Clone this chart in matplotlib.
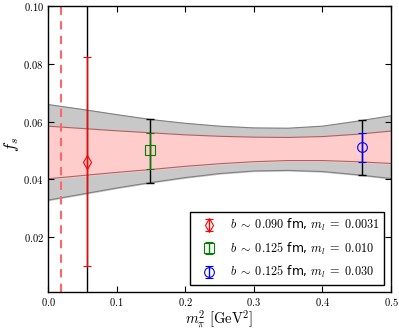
import matplotlib
matplotlib.use("Agg")
import matplotlib.pyplot as plt
from matplotlib.ticker import FuncFormatter, MultipleLocator

plt.rcParams['mathtext.fontset'] = 'cm'
plt.rcParams['font.family'] = ['DejaVu Sans']

# Band samples (m_pi^2 in GeV^2)
band_x = [0.0, 0.05, 0.1, 0.15, 0.2, 0.25, 0.3, 0.35, 0.4, 0.45, 0.5]
gray_top = [0.0659, 0.0642, 0.0624, 0.0607, 0.0594, 0.0584, 0.0578, 0.0577, 0.0584, 0.0601, 0.0620]
pink_top = [0.0584, 0.0576, 0.0568, 0.0561, 0.0554, 0.0549, 0.0546, 0.0545, 0.0548, 0.0556, 0.0567]
pink_bot = [0.0402, 0.0413, 0.0424, 0.0434, 0.0445, 0.0454, 0.0461, 0.0465, 0.0465, 0.0461, 0.0455]
gray_bot = [0.0328, 0.0349, 0.0370, 0.0389, 0.0406, 0.0420, 0.0429, 0.0431, 0.0427, 0.0416, 0.0403]

# Data points
pt_x = [0.0573, 0.148, 0.457]
pt_y = [0.0461, 0.0500, 0.0511]
stat_lo = [0.0101, 0.0437, 0.0461]
stat_hi = [0.0823, 0.0560, 0.0559]
tot_lo = [-0.05, 0.0389, 0.0415]
tot_hi = [0.15, 0.0609, 0.0606]
pt_colors = ['r', 'g', 'b']
pt_markers = ['d', 's', 'o']
pt_labels = [r"$b\;\sim\;0.090$ fm, $m_l\;=\;0.0031$",
             r"$b\;\sim\;0.125$ fm, $m_l\;=\;0.010$",
             r"$b\;\sim\;0.125$ fm, $m_l\;=\;0.030$"]

phys_mpi2 = 0.0183

fig = plt.figure(figsize=(3.99, 3.32), dpi=100)
ax = fig.add_axes([0.1203, 0.1205, 0.8597, 0.8614])

ax.fill_between(band_x, gray_bot, gray_top, color='#c8c8c8', zorder=1)
ax.plot(band_x, gray_top, color='#808080', lw=0.8, zorder=1.1)
ax.plot(band_x, gray_bot, color='#808080', lw=0.8, zorder=1.1)
ax.fill_between(band_x, pink_bot, pink_top, color='#ffcccc', zorder=1.2)
ax.plot(band_x, pink_top, color='#b06060', lw=0.8, zorder=1.3)
ax.plot(band_x, pink_bot, color='#b06060', lw=0.8, zorder=1.3)

ax.axvline(phys_mpi2, color='#ff6666', ls='--', lw=1.5, dashes=(4, 3), zorder=2)

for i in range(len(pt_x)):
    ax.errorbar([pt_x[i]], [pt_y[i]],
                yerr=[[pt_y[i] - tot_lo[i]], [tot_hi[i] - pt_y[i]]],
                fmt='none', ecolor='k', elinewidth=1, capsize=3, capthick=1, zorder=3)
    ax.errorbar([pt_x[i]], [pt_y[i]],
                yerr=[[pt_y[i] - stat_lo[i]], [stat_hi[i] - pt_y[i]]],
                fmt=pt_markers[i], color=pt_colors[i], mfc='none', mec=pt_colors[i],
                ms=7, mew=0.8, elinewidth=1, capsize=3, capthick=1, zorder=4,
                label=pt_labels[i])

ax.set_xlim(0.0, 0.5)
ax.set_ylim(0.001, 0.1)
ax.xaxis.set_major_locator(MultipleLocator(0.1))
ax.yaxis.set_major_locator(MultipleLocator(0.02))
ax.xaxis.set_major_formatter(FuncFormatter(lambda v, p: f"${v:.1f}$"))
ax.yaxis.set_major_formatter(FuncFormatter(lambda v, p: f"${v:.2f}$" if v > 0.005 else ""))
ax.tick_params(direction='in', top=True, right=True, labelsize=7.6, length=4, width=0.8, pad=3)
for s in ax.spines.values():
    s.set_linewidth(1.0)

ax.set_xlabel(r"$m_\pi^2\ [\mathrm{GeV}^2]$", fontsize=10.5)
ax.set_ylabel(r"$f_s$", fontsize=12)
ax.xaxis.set_label_coords(0.5, -0.058)
ax.yaxis.set_label_coords(-0.08, 0.517)

leg = ax.legend(loc='lower right', fontsize=8.8, frameon=True, fancybox=False,
                edgecolor='k', framealpha=1, handlelength=2.4, numpoints=1,
                borderaxespad=0.55, labelspacing=0.62, borderpad=0.4, handletextpad=0.5)
leg.get_frame().set_linewidth(1.0)

fig.savefig("out.png", dpi=100)
